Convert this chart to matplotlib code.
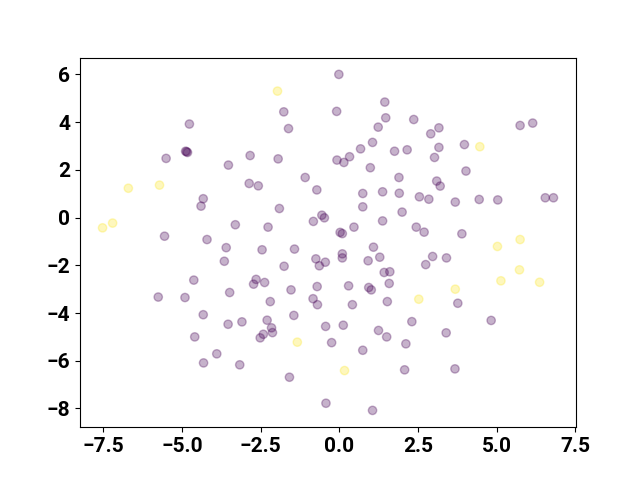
import numpy as np
import matplotlib
matplotlib.use("Agg")
import matplotlib.pyplot as plt
from matplotlib.ticker import MultipleLocator

# class 0 (purple) points
x0 = [-4.76, -4.88, -4.82, -4.85, -5.50, -3.52, -2.83, -2.86, -2.57, -4.32, -4.39,
      -3.30, -5.55, -4.20, -3.59, -3.65, -4.62, -5.75, -4.90, -3.48, -4.32,
      -3.53, -3.09, -4.59, -3.89, -4.31, -3.16,
      -0.01, -1.76, -0.08, -1.61, 1.45, 1.48, 1.24, 1.06, 0.68, 1.76,
      2.16, 0.33, -0.07, 0.15, -1.94, 0.99, -1.08, 1.90, -0.71, 0.75,
      1.38, 1.91, 0.75, 2.00, -1.90, -0.55, -0.47, -0.82, 1.38, -2.26,
      0.03, 0.10, 0.47, 2.45,
      2.37, 2.91, 3.17, 3.17, 3.98, 3.03, 4.03, 3.10, 3.21, 5.75,
      6.15, 2.55, 2.85, 3.69, 4.45, 5.04, 6.55, 6.81, 2.70, 3.90,
      -2.45, -1.42, -0.74, -0.44, -0.63, 0.10, 0.10, 1.09, 1.29, 0.92,
      1.43, 1.61, 1.59, -1.75, -2.64, -2.72, -2.37, -1.53, -0.70, 0.30,
      0.94, 1.02, -0.83, -0.69, 0.42, 1.53, -2.19, -2.29, -1.44, -2.15,
      -2.12, -2.41, -2.51, -0.43, 0.13, -0.24, 0.75, 1.25, 1.51, 2.12,
      2.08, -1.58, -0.42, 1.06,
      2.97, 2.75, 3.41, 3.77, 2.31, 4.83, 3.40, 3.68]
y0 = [3.92, 2.78, 2.73, 2.76, 2.48, 2.20, 2.60, 1.43, 1.33, 0.79, 0.48,
      -0.30, -0.78, -0.92, -1.26, -1.83, -2.62, -3.33, -3.35, -3.14, -4.07,
      -4.47, -4.37, -5.00, -5.71, -6.09, -6.17,
      6.00, 4.43, 4.45, 3.73, 4.84, 4.18, 3.79, 3.15, 2.88, 2.78,
      2.84, 2.55, 2.41, 2.31, 2.46, 2.09, 1.68, 1.68, 1.16, 1.01,
      1.08, 1.02, 0.45, 0.23, 0.38, 0.10, -0.01, -0.16, -0.14, -0.40,
      -0.62, -0.67, -0.40, -0.40,
      4.11, 3.51, 3.76, 2.94, 3.06, 2.52, 1.95, 1.53, 1.32, 3.86,
      3.96, 0.87, 0.77, 0.65, 0.76, 0.74, 0.83, 0.83, -0.61, -0.68,
      -1.35, -1.32, -1.73, -1.87, -2.02, -1.52, -1.69, -1.24, -1.66, -1.81,
      -2.30, -2.27, -2.76, -2.04, -2.59, -2.79, -2.72, -3.03, -2.89, -2.86,
      -2.93, -3.03, -3.40, -3.65, -3.65, -3.52, -3.52, -4.30, -4.10, -4.62,
      -4.82, -4.89, -5.04, -4.56, -4.51, -5.24, -5.56, -4.73, -5.00, -5.29,
      -6.38, -6.69, -7.78, -8.08,
      -1.63, -1.97, -1.69, -3.59, -4.36, -4.31, -4.83, -6.34]

# class 1 (yellow) points
x1 = [-1.96, -6.70, -5.71, -7.20, -7.52, 4.47, 5.03, 5.75, 5.73, 5.14,
      6.37, 3.69, 2.53, -1.33, 0.17]
y1 = [5.30, 1.23, 1.36, -0.23, -0.43, 2.97, -1.21, -0.92, -2.19, -2.65,
      -2.71, -3.00, -3.42, -5.22, -6.41]

x = np.array(x0 + x1)
y = np.array(y0 + y1)
labels = np.array([0] * len(x0) + [1] * len(x1))

plt.rcParams["font.family"] = ["Roboto", "DejaVu Sans"]
plt.rcParams["font.weight"] = "bold"

fig, ax = plt.subplots(figsize=(6.4, 4.8), dpi=100)
ax.scatter(x, y, c=labels, cmap="viridis", alpha=0.3)
ax.xaxis.set_major_locator(MultipleLocator(2.5))
ax.yaxis.set_major_locator(MultipleLocator(2))
ax.tick_params(labelsize=15)
for lab in ax.get_xticklabels() + ax.get_yticklabels():
    lab.set_fontweight("bold")

fig.savefig("out.png", dpi=100)
